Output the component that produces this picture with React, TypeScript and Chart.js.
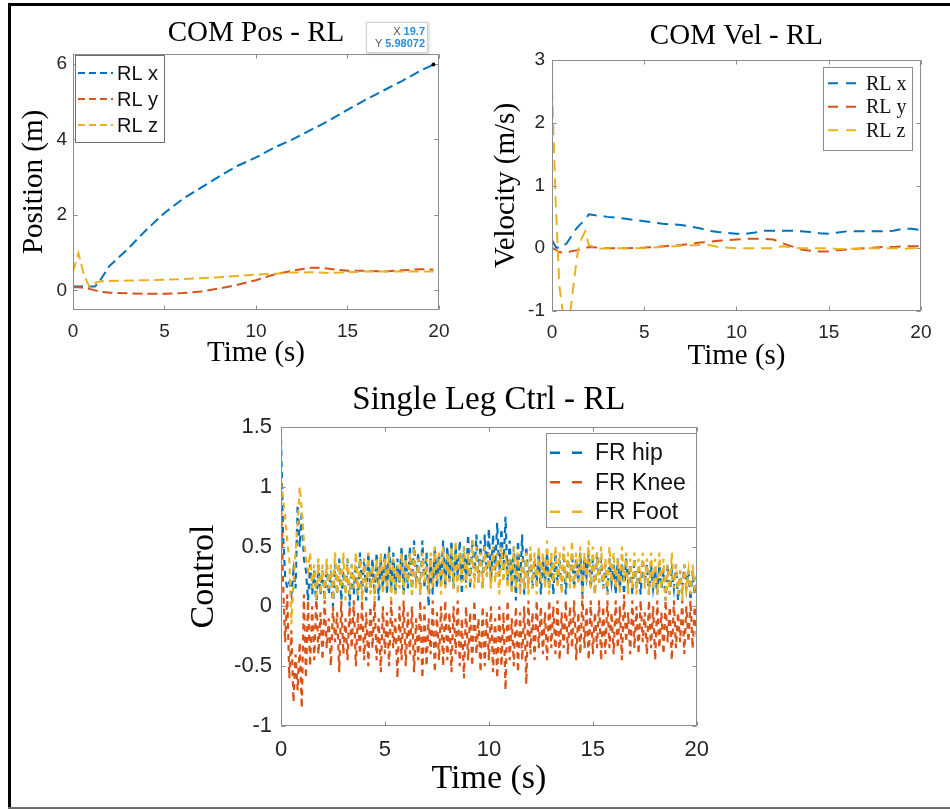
import React, { useEffect, useRef } from 'react';
import { Chart, registerables } from 'chart.js';

Chart.register(...registerables);

// ---------------- data: COM position ----------------
const POS_T = [0, 0.3, 0.6, 0.9, 1.2, 1.5, 2, 3, 4, 5, 6, 7, 8, 9, 10, 11, 12, 13, 13.5, 14, 15, 16, 17, 18, 19, 19.7];
const POS_RL_X = [0.1, 0.1, 0.1, 0.1, 0.1, 0.28, 0.65, 1.1, 1.6, 2.05, 2.42, 2.72, 3.02, 3.3, 3.52, 3.78, 4.0, 4.25, 4.37, 4.5, 4.78, 5.05, 5.3, 5.55, 5.82, 5.98072];
const POS_RL_Y = [0.08, 0.08, 0.07, 0.04, 0.0, -0.04, -0.06, -0.08, -0.09, -0.09, -0.07, -0.03, 0.05, 0.15, 0.27, 0.42, 0.52, 0.6, 0.6, 0.57, 0.52, 0.52, 0.5, 0.53, 0.56, 0.55];
const POS_RL_Z = [0.5, 0.98, 0.4, 0.1, 0.2, 0.24, 0.25, 0.26, 0.27, 0.28, 0.3, 0.32, 0.35, 0.38, 0.42, 0.44, 0.47, 0.48, 0.47, 0.46, 0.48, 0.5, 0.5, 0.5, 0.5, 0.5];
const POS_Y_TICKS = [0, 2, 4, 6];
const DATATIP_X = 19.7;
const DATATIP_Y = 5.98072;

// ---------------- data: COM velocity ----------------
const VEL_T = [0, 0.2, 0.4, 0.6, 0.8, 1.0, 1.2, 1.4, 1.6, 1.8, 2.0, 2.5, 3, 4, 5, 6, 7, 8, 8.5, 9, 10, 10.5, 11, 11.5, 12, 12.5, 13, 13.5, 14, 14.5, 15, 15.5, 16, 17, 18, 18.5, 19, 19.5, 20];
const VEL_RL_X = [0.13, 0.02, 0.0, 0.04, 0.08, 0.17, 0.27, 0.34, 0.4, 0.46, 0.54, 0.52, 0.5, 0.47, 0.43, 0.39, 0.37, 0.32, 0.28, 0.26, 0.23, 0.23, 0.25, 0.28, 0.28, 0.28, 0.28, 0.27, 0.26, 0.24, 0.23, 0.25, 0.27, 0.27, 0.27, 0.28, 0.31, 0.31, 0.29];
const VEL_RL_Y = [0.0, -0.02, -0.06, -0.07, -0.07, -0.05, -0.04, -0.03, -0.02, 0.0, 0.02, 0.01, 0.0, 0.0, 0.01, 0.03, 0.05, 0.09, 0.1, 0.12, 0.14, 0.15, 0.15, 0.15, 0.14, 0.08, 0.03, -0.02, -0.04, -0.05, -0.05, -0.03, -0.02, 0.0, 0.02, 0.02, 0.03, 0.03, 0.03];
const VEL_RL_Z = [2.55, 0.75, -0.6, -1.05, -1.05, -1.0, -0.5, -0.05, 0.15, 0.27, 0.05, -0.01, 0.0, 0.0, 0.0, 0.02, 0.04, 0.05, 0.05, 0.02, 0.0, 0.0, 0.0, 0.0, 0.0, 0.03, 0.01, 0.0, 0.0, 0.0, 0.0, -0.01, -0.01, 0.0, 0.0, 0.0, -0.01, 0.0, 0.0];
const VEL_Y_TICKS = [-1, 0, 1, 2, 3];

// ---------------- data: single leg control (sampled every CTRL_DT s) ----------------
const CTRL_DT = 0.1;
const CTRL_HIP = [
  1.4, 0.6, 0.25, 0.15, 0.2, 0.1, 0.3, 0.15, 0.85, 0.5, 0.8, 0.4, 0.3, 0.05, 0.35, 0.1, 0.3, 0.0, 0.35, 0.1,
  0.3, 0.05, 0.35, 0.1, 0.3, 0.0, 0.35, 0.1, 0.4, 0.05, 0.3, 0.1, 0.4, 0.0, 0.35, 0.1, 0.4, 0.05, 0.45, 0.1,
  0.4, 0.05, 0.45, 0.15, 0.4, 0.1, 0.45, 0.05, 0.4, 0.15, 0.45, 0.1, 0.5, 0.15, 0.45, 0.1, 0.4, 0.2, 0.5, 0.1,
  0.45, 0.15, 0.5, 0.1, 0.55, 0.2, 0.45, 0.1, 0.55, 0.15, 0.45, 0.0, 0.4, 0.1, 0.5, 0.15, 0.45, 0.2, 0.55, 0.15,
  0.5, 0.2, 0.55, 0.15, 0.5, 0.25, 0.55, 0.1, 0.5, 0.2, 0.6, 0.15, 0.55, 0.25, 0.6, 0.2, 0.55, 0.15, 0.6, 0.25,
  0.65, 0.2, 0.6, 0.3, 0.7, 0.25, 0.65, 0.3, 0.75, 0.2, 0.55, 0.15, 0.5, 0.05, 0.55, 0.15, 0.6, 0.1, 0.5, 0.2,
  0.45, 0.15, 0.4, 0.2, 0.45, 0.1, 0.4, 0.2, 0.45, 0.15, 0.4, 0.1, 0.45, 0.2, 0.4, 0.15, 0.45, 0.1, 0.4, 0.2,
  0.45, 0.15, 0.4, 0.2, 0.45, 0.1, 0.4, 0.25, 0.45, 0.15, 0.4, 0.1, 0.45, 0.2, 0.4, 0.15, 0.35, 0.1, 0.4, 0.2,
  0.35, 0.1, 0.4, 0.15, 0.35, 0.1, 0.4, 0.2, 0.35, 0.1, 0.4, 0.15, 0.35, 0.1, 0.4, 0.2, 0.35, 0.1, 0.35, 0.15,
  0.3, 0.1, 0.35, 0.15, 0.3, 0.05, 0.35, 0.1, 0.3, 0.15, 0.35, 0.05, 0.3, 0.1, 0.35, 0.15, 0.3, 0.05, 0.3, 0.1,
  0.25,
];
const CTRL_KNEE = [
  0.9, 0.2, -0.3, 0.1, -0.6, -0.2, -0.8, -0.4, -0.7, -0.3, -0.85, 0.1, -0.6, 0.05, -0.5, 0.0, -0.45, 0.1, -0.4, -0.05,
  -0.45, 0.05, -0.35, -0.1, -0.5, 0.0, -0.3, -0.05, -0.55, 0.05, -0.4, -0.1, -0.45, 0.0, -0.35, 0.05, -0.5, -0.05, -0.4, 0.05,
  -0.45, -0.05, -0.5, 0.0, -0.35, 0.05, -0.45, -0.1, -0.55, 0.0, -0.4, -0.05, -0.5, 0.05, -0.35, -0.1, -0.6, 0.0, -0.45, 0.05,
  -0.5, -0.05, -0.4, 0.0, -0.55, -0.1, -0.45, 0.05, -0.6, 0.0, -0.5, -0.1, -0.4, 0.05, -0.55, -0.05, -0.45, 0.0, -0.5, 0.05,
  -0.45, -0.05, -0.55, 0.0, -0.4, 0.05, -0.5, -0.1, -0.6, 0.0, -0.45, -0.05, -0.5, 0.05, -0.4, -0.1, -0.55, 0.0, -0.5, -0.05,
  -0.45, 0.0, -0.55, -0.1, -0.6, 0.0, -0.5, -0.05, -0.7, 0.05, -0.45, -0.1, -0.5, 0.0, -0.55, -0.05, -0.45, 0.0, -0.65, 0.05,
  -0.4, -0.05, -0.45, 0.05, -0.35, 0.0, -0.4, -0.05, -0.45, 0.05, -0.35, 0.0, -0.4, 0.05, -0.45, -0.05, -0.35, 0.05, -0.4, 0.0,
  -0.35, 0.05, -0.45, -0.05, -0.4, 0.1, -0.35, 0.0, -0.45, 0.05, -0.4, -0.05, -0.35, 0.05, -0.45, 0.0, -0.4, 0.05, -0.35, -0.05,
  -0.4, 0.05, -0.35, 0.0, -0.45, 0.1, -0.3, -0.05, -0.4, 0.05, -0.35, 0.0, -0.4, 0.05, -0.3, -0.05, -0.4, 0.05, -0.35, 0.0,
  -0.45, 0.05, -0.35, -0.05, -0.4, 0.05, -0.3, 0.0, -0.45, 0.05, -0.35, -0.05, -0.3, 0.05, -0.4, 0.0, -0.3, 0.05, -0.35, 0.0,
  -0.25,
];
const CTRL_FOOT = [
  1.05, 0.9, 0.75, 0.55, 0.4, -0.15, 0.2, 0.45, 0.7, 1.0, 0.8, 0.55, 0.4, 0.3, 0.45, 0.15, 0.35, 0.05, 0.4, 0.1,
  0.35, 0.05, 0.4, 0.15, 0.35, 0.05, 0.45, 0.1, 0.35, 0.15, 0.45, 0.05, 0.4, 0.1, 0.35, 0.15, 0.45, 0.1, 0.4, 0.05,
  0.4, 0.15, 0.45, 0.1, 0.35, 0.05, 0.4, 0.15, 0.45, 0.1, 0.4, 0.15, 0.45, 0.05, 0.4, 0.1, 0.35, 0.15, 0.45, 0.1,
  0.4, 0.2, 0.45, 0.1, 0.5, 0.15, 0.4, 0.1, 0.45, 0.2, 0.4, 0.1, 0.45, 0.15, 0.5, 0.2, 0.45, 0.1, 0.5, 0.15,
  0.45, 0.2, 0.5, 0.15, 0.55, 0.1, 0.45, 0.2, 0.5, 0.15, 0.45, 0.2, 0.55, 0.15, 0.5, 0.2, 0.45, 0.15, 0.5, 0.25,
  0.45, 0.15, 0.5, 0.2, 0.45, 0.1, 0.5, 0.2, 0.45, 0.15, 0.4, 0.1, 0.5, 0.15, 0.45, 0.1, 0.4, 0.15, 0.45, 0.1,
  0.5, 0.15, 0.45, 0.1, 0.5, 0.2, 0.45, 0.15, 0.55, 0.1, 0.45, 0.2, 0.5, 0.15, 0.45, 0.1, 0.5, 0.2, 0.45, 0.15,
  0.55, 0.15, 0.45, 0.2, 0.5, 0.1, 0.45, 0.2, 0.55, 0.15, 0.5, 0.1, 0.45, 0.2, 0.5, 0.15, 0.4, 0.1, 0.5, 0.2,
  0.45, 0.15, 0.4, 0.1, 0.5, 0.2, 0.45, 0.1, 0.4, 0.15, 0.45, 0.1, 0.4, 0.2, 0.45, 0.15, 0.4, 0.1, 0.45, 0.15,
  0.4, 0.1, 0.45, 0.15, 0.4, 0.05, 0.35, 0.1, 0.45, 0.15, 0.35, 0.1, 0.3, 0.05, 0.35, 0.15, 0.3, 0.1, 0.35, 0.15,
  0.2,
];
const CTRL_Y_TICKS = [-1, -0.5, 0, 0.5, 1, 1.5];

const TIME_TICKS = [0, 5, 10, 15, 20];
const RL_LABELS = ['RL x', 'RL y', 'RL z'];
const CTRL_LABELS = ['FR hip', 'FR Knee', 'FR Foot'];
const COLORS = ['#0072BD', '#D95319', '#EDB120'];

// ---------------- helpers ----------------
const SERIF = '"Liberation Serif", "Times New Roman", serif';
const SANS = '"Liberation Sans", Arial, Helvetica, sans-serif';

const zipXY = (xs: number[], ys: number[]) => ys.map((y, i) => ({ x: xs[i], y }));
const sampled = (ys: number[], dt: number) => ys.map((y, i) => ({ x: Math.round(i * dt * 1000) / 1000, y }));

function boxPlugin(p: any) {
  return {
    id: 'axesBox',
    afterDatasetsDraw(chart: any) {
      const { ctx, chartArea: a, scales } = chart;
      ctx.save();
      ctx.strokeStyle = '#8c8c8c';
      ctx.lineWidth = 1;
      const l = Math.round(a.left) + 0.5, t = Math.round(a.top) + 0.5;
      const r = Math.round(a.right) - 0.5, b = Math.round(a.bottom) - 0.5;
      ctx.strokeRect(l, t, r - l, b - t);
      const tl = 4;
      ctx.beginPath();
      for (const v of p.xTicks) {
        const x = Math.round(scales.x.getPixelForValue(v)) + 0.5;
        ctx.moveTo(x, b); ctx.lineTo(x, b - tl);
        ctx.moveTo(x, t); ctx.lineTo(x, t + tl);
      }
      for (const v of p.yTicks) {
        const y = Math.round(scales.y.getPixelForValue(v)) + 0.5;
        ctx.moveTo(l, y); ctx.lineTo(l + tl, y);
        ctx.moveTo(r, y); ctx.lineTo(r - tl, y);
      }
      ctx.stroke();
      ctx.restore();
    },
  };
}

function legendPlugin(lg: any) {
  return {
    id: 'mlLegend',
    afterDraw(chart: any) {
      const { ctx, chartArea: a } = chart;
      const ds = chart.data.datasets;
      ctx.save();
      ctx.font = lg.font;
      const textW = Math.max(...ds.map((d: any) => ctx.measureText(d.label).width));
      const w = lg.padL + lg.lineLen + lg.gap + textW + lg.padR;
      const h = lg.padT + ds.length * lg.rowH + lg.padB;
      const x = Math.round(lg.corner === 'nw' ? a.left + lg.offX : a.right - lg.offX - w);
      const y = Math.round(a.top + lg.offY);
      ctx.fillStyle = '#ffffff';
      ctx.fillRect(x, y, w, h);
      ctx.strokeStyle = lg.border;
      ctx.lineWidth = 1;
      ctx.strokeRect(x + 0.5, y + 0.5, Math.round(w), Math.round(h));
      ds.forEach((d: any, i: number) => {
        const cy = y + lg.padT + lg.rowH * (i + 0.5);
        ctx.strokeStyle = d.borderColor;
        ctx.lineWidth = lg.lineWidth;
        ctx.setLineDash(lg.dash);
        ctx.beginPath();
        ctx.moveTo(x + lg.padL, cy);
        ctx.lineTo(x + lg.padL + lg.lineLen, cy);
        ctx.stroke();
        ctx.setLineDash([]);
        ctx.fillStyle = '#111111';
        ctx.textAlign = 'left';
        ctx.textBaseline = 'middle';
        ctx.fillText(d.label, x + lg.padL + lg.lineLen + lg.gap, cy + 1);
      });
      ctx.restore();
    },
  };
}

function datatipPlugin(tx: number, ty: number) {
  return {
    id: 'datatip',
    afterDraw(chart: any) {
      const { ctx, scales } = chart;
      const px = scales.x.getPixelForValue(tx);
      const py = scales.y.getPixelForValue(ty);
      ctx.save();
      ctx.fillStyle = '#000';
      ctx.beginPath();
      ctx.arc(px, py, 2, 0, Math.PI * 2);
      ctx.fill();
      const w = 62, h = 31;
      const bx = Math.round(px - 5 - w), by = Math.round(py - 12 - h);
      ctx.shadowColor = 'rgba(0,0,0,0.2)';
      ctx.shadowBlur = 3;
      ctx.shadowOffsetX = 1;
      ctx.shadowOffsetY = 1;
      ctx.fillStyle = '#ffffff';
      ctx.fillRect(bx, by, w, h);
      ctx.shadowColor = 'transparent';
      ctx.strokeStyle = '#cfcfcf';
      ctx.lineWidth = 1;
      ctx.strokeRect(bx + 0.5, by + 0.5, w - 1, h - 1);
      ctx.textAlign = 'right';
      ctx.textBaseline = 'middle';
      const rows: [string, string][] = [['X', String(tx)], ['Y', String(ty)]];
      rows.forEach(([k, v], i) => {
        const yy = by + 10 + i * 11.5;
        ctx.font = 'bold 11px ' + SANS;
        ctx.fillStyle = '#2a8ee0';
        ctx.fillText(v, bx + w - 3, yy);
        const vw = ctx.measureText(v).width;
        ctx.font = '11px ' + SANS;
        ctx.fillStyle = '#555555';
        ctx.fillText(k, bx + w - 3 - vw - 3, yy);
      });
      ctx.restore();
    },
  };
}

function makeConfig(p: any) {
  const [cl, ct, cr, cb] = p.canvas;
  const [L, T, R, B] = p.box;
  const yAxisW = L - cl;
  const padRight = cr - R;
  const tPadTop = p.titleY - ct - p.titleFont / 2;
  const tPadBottom = T - ct - tPadTop - p.titleFont;
  const xAxisH = cb - B;
  const xtPadBottom = cb - p.xTitleY - p.xTitleFont / 2;
  const ytPadTop = p.yTitleX - cl - p.yTitleFont / 2;
  const xTickPad = p.xTickY - B - p.tickFont / 2;
  const n = p.series.length;
  const plugins: any[] = [boxPlugin(p), legendPlugin(p.legend)];
  if (p.datatip) plugins.push(datatipPlugin(p.datatip[0], p.datatip[1]));
  return {
    type: 'line',
    data: {
      datasets: p.series.map((s: any, i: number) => ({
        label: s.label,
        data: s.points,
        borderColor: s.color,
        backgroundColor: s.color,
        borderWidth: p.lineWidth,
        borderDash: p.dash,
        pointRadius: 0,
        pointHoverRadius: 0,
        tension: 0,
        fill: false,
        order: n - i,
        clip: 0,
      })),
    },
    options: {
      responsive: false,
      animation: false,
      events: [],
      layout: { padding: { left: 0, top: 0, right: padRight, bottom: 0 } },
      plugins: {
        legend: { display: false },
        tooltip: { enabled: false },
        title: {
          display: true,
          text: p.title,
          fullSize: false,
          color: '#000000',
          font: { family: SERIF, size: p.titleFont, weight: 'normal', lineHeight: 1 },
          padding: { top: tPadTop, bottom: tPadBottom },
        },
      },
      scales: {
        x: {
          type: 'linear',
          position: 'bottom',
          min: 0,
          max: 20,
          grid: { display: false, drawTicks: false },
          border: { display: false },
          ticks: {
            color: '#262626',
            font: { family: SANS, size: p.tickFont, lineHeight: 1 },
            padding: xTickPad,
            maxRotation: 0,
            autoSkip: false,
            callback: (v: number) => String(v),
          },
          afterBuildTicks: (axis: any) => { axis.ticks = p.xTicks.map((v: number) => ({ value: v })); },
          afterFit: (axis: any) => { axis.height = xAxisH; },
          title: {
            display: true,
            text: p.xTitle,
            color: '#000000',
            font: { family: SERIF, size: p.xTitleFont, lineHeight: 1 },
            padding: { top: 0, bottom: xtPadBottom },
          },
        },
        y: {
          type: 'linear',
          position: 'left',
          min: p.yMin,
          max: p.yMax,
          grid: { display: false, drawTicks: false },
          border: { display: false },
          ticks: {
            color: '#262626',
            font: { family: SANS, size: p.tickFont, lineHeight: 1 },
            padding: p.yTickGap,
            autoSkip: false,
            callback: (v: number) => String(v),
          },
          afterBuildTicks: (axis: any) => { axis.ticks = p.yTicks.map((v: number) => ({ value: v })); },
          afterFit: (axis: any) => { axis.width = yAxisW; },
          title: {
            display: true,
            text: p.yTitle,
            color: '#000000',
            font: { family: SERIF, size: p.yTitleFont, lineHeight: 1 },
            padding: { top: ytPadTop, bottom: 0 },
          },
        },
      },
    },
    plugins,
  };
}

// ---------------- panel specs (layout in page pixels) ----------------
const POS_PANEL = {
  canvas: [12, 6, 462, 378],
  box: [73, 54, 444, 310],
  yMin: -0.52, yMax: 6.26, yTicks: POS_Y_TICKS, xTicks: TIME_TICKS,
  title: 'COM Pos - RL', titleFont: 29, titleY: 33.5,
  xTitle: 'Time (s)', xTitleFont: 29, xTitleY: 353,
  yTitle: 'Position (m)', yTitleFont: 29, yTitleX: 34,
  tickFont: 19, xTickY: 332, yTickGap: 6,
  lineWidth: 2, dash: [10, 5],
  series: [
    { label: RL_LABELS[0], color: COLORS[0], points: zipXY(POS_T, POS_RL_X) },
    { label: RL_LABELS[1], color: COLORS[1], points: zipXY(POS_T, POS_RL_Y) },
    { label: RL_LABELS[2], color: COLORS[2], points: zipXY(POS_T, POS_RL_Z) },
  ],
  legend: { corner: 'nw', offX: 2, offY: 1, padL: 3, lineLen: 35, gap: 4, padR: 6, padT: 5, rowH: 26, padB: 4, font: '20px ' + SANS, dash: [7, 4], lineWidth: 2, border: '#6e6e6e' },
  datatip: [DATATIP_X, DATATIP_Y],
};

const VEL_PANEL = {
  canvas: [485, 8, 944, 380],
  box: [552, 60, 926, 311],
  yMin: -1, yMax: 3, yTicks: VEL_Y_TICKS, xTicks: TIME_TICKS,
  title: 'COM Vel - RL', titleFont: 29, titleY: 36,
  xTitle: 'Time (s)', xTitleFont: 29, xTitleY: 356,
  yTitle: 'Velocity (m/s)', yTitleFont: 29, yTitleX: 506,
  tickFont: 19, xTickY: 333, yTickGap: 7,
  lineWidth: 2, dash: [11, 7],
  series: [
    { label: RL_LABELS[0], color: COLORS[0], points: zipXY(VEL_T, VEL_RL_X) },
    { label: RL_LABELS[1], color: COLORS[1], points: zipXY(VEL_T, VEL_RL_Y) },
    { label: RL_LABELS[2], color: COLORS[2], points: zipXY(VEL_T, VEL_RL_Z) },
  ],
  legend: { corner: 'ne', offX: 9, offY: 7, padL: 5, lineLen: 28, gap: 10, padR: 5, padT: 4.5, rowH: 23.5, padB: 8, font: '20px ' + SERIF, dash: [10, 8], lineWidth: 2, border: '#8c8c8c' },
};

const CTRL_PANEL = {
  canvas: [180, 378, 722, 805],
  box: [281, 427, 701, 726],
  yMin: -1, yMax: 1.5, yTicks: CTRL_Y_TICKS, xTicks: TIME_TICKS,
  title: 'Single Leg Ctrl - RL', titleFont: 33, titleY: 400,
  xTitle: 'Time (s)', xTitleFont: 34, xTitleY: 779,
  yTitle: 'Control', yTitleFont: 34, yTitleX: 204,
  tickFont: 22, xTickY: 750, yTickGap: 9,
  lineWidth: 2.2, dash: [6, 5],
  series: [
    { label: CTRL_LABELS[0], color: COLORS[0], points: sampled(CTRL_HIP, CTRL_DT) },
    { label: CTRL_LABELS[1], color: COLORS[1], points: sampled(CTRL_KNEE, CTRL_DT) },
    { label: CTRL_LABELS[2], color: COLORS[2], points: sampled(CTRL_FOOT, CTRL_DT) },
  ],
  legend: { corner: 'ne', offX: 1, offY: 6, padL: 4, lineLen: 33, gap: 12, padR: 10, padT: 5, rowH: 29.5, padB: 0.5, font: '23px ' + SANS, dash: [10, 12], lineWidth: 2.5, border: '#8c8c8c' },
};

function Panel({ spec }: { spec: any }) {
  const ref = useRef<HTMLCanvasElement>(null);
  useEffect(() => {
    const chart = new Chart(ref.current as HTMLCanvasElement, makeConfig(spec) as any);
    return () => chart.destroy();
  }, [spec]);
  const [cl, ct, cr, cb] = spec.canvas;
  return (
    <canvas
      ref={ref}
      width={cr - cl}
      height={cb - ct}
      style={{ position: 'absolute', left: cl, top: ct }}
    />
  );
}

export default function App() {
  return (
    <div style={{ position: 'absolute', left: 0, top: 0, width: 950, height: 810, background: '#ffffff', overflow: 'hidden' }}>
      <div style={{ position: 'absolute', left: 8, top: 3, width: 942, height: 3, background: '#000' }} />
      <div style={{ position: 'absolute', left: 8, top: 3, width: 3, height: 806, background: '#000' }} />
      <div style={{ position: 'absolute', left: 8, top: 807, width: 942, height: 2, background: '#6e6e6e' }} />
      <Panel spec={POS_PANEL} />
      <Panel spec={VEL_PANEL} />
      <Panel spec={CTRL_PANEL} />
    </div>
  );
}
